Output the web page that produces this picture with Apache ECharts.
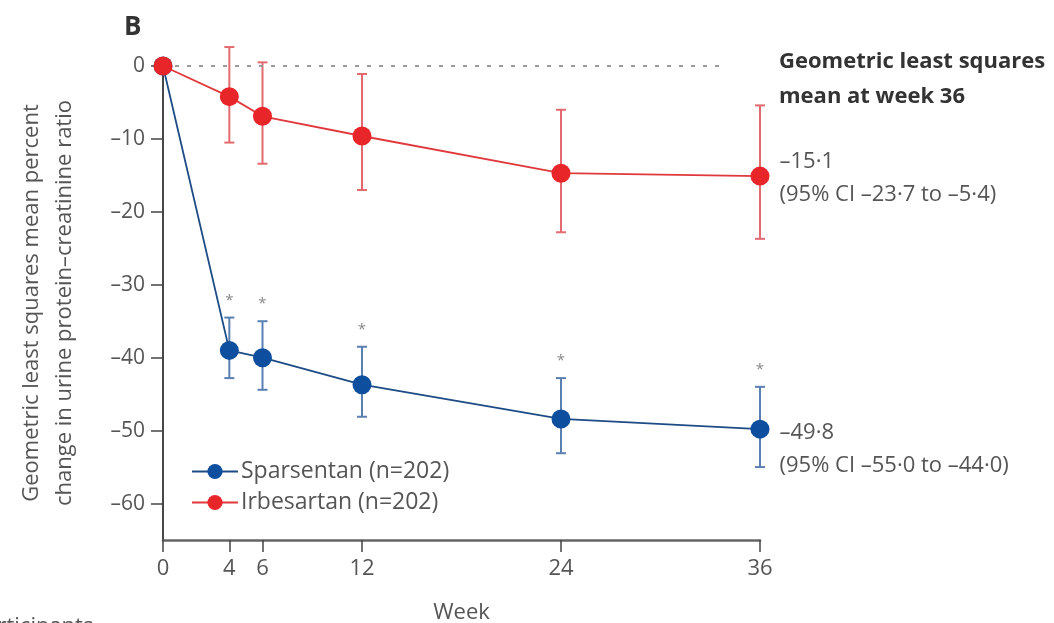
<!DOCTYPE html>
<html>
<head>
<meta charset="utf-8">
<script src="https://cdn.jsdelivr.net/npm/echarts@6/dist/echarts.min.js"></script>
<style>
  html, body { margin: 0; padding: 0; background: #fff; }
  #chart { width: 1054px; height: 623px; }
</style>
</head>
<body>
<div id="chart"></div>
<script>
// Weeks of follow-up
const weeks = [0, 4, 6, 12, 24, 36];
const yTicks = [0, -10, -20, -30, -40, -50, -60];

// Geometric least squares mean percent change in UPCR, with 95% CI
const sparsentanMean  = [0, -39.0, -40.0, -43.7, -48.4, -49.8];
const sparsentanLower = [null, -42.8, -44.4, -48.1, -53.1, -55.0];
const sparsentanUpper = [null, -34.5, -35.0, -38.5, -42.8, -44.0];

const irbesartanMean  = [0, -4.2, -6.9, -9.6, -14.7, -15.1];
const irbesartanLower = [null, -10.5, -13.4, -17.0, -22.8, -23.7];
const irbesartanUpper = [null, 2.6, 0.5, -1.1, -6.0, -5.4];

// weeks where the between-group difference is significant
const significant = [false, true, true, true, true, true];

const seriesNames = ['Sparsentan (n=202)', 'Irbesartan (n=202)'];
const refLineEnd = 33.7;

const BLUE = '#0d4f9e', BLUE_LINE = '#1d4b86', BLUE_BAR = '#5a7fb2';
const RED = '#e8262a', RED_LINE = '#e0393c', RED_BAR = '#e36a6e';
const FONT = '"Open Sans", sans-serif';
const TEXT = '#555';

function fmt(v) {
  return v.toFixed(1).replace('-', '–').replace('.', '·');
}

function pairs(xs, ys) { return xs.map((x, i) => [x, ys[i]]); }

function errorData(lower, upper, flags) {
  const out = [];
  weeks.forEach((w, i) => {
    if (lower[i] != null) out.push([w, lower[i], upper[i], flags ? (flags[i] ? 1 : 0) : 0]);
  });
  return out;
}

function errorBar(color, withStar) {
  return function (params, api) {
    const x = api.value(0);
    const lo = api.coord([x, api.value(1)]);
    const hi = api.coord([x, api.value(2)]);
    const cap = 5;
    const style = { stroke: color, lineWidth: 2 };
    const children = [
      { type: 'line', shape: { x1: lo[0], y1: lo[1], x2: hi[0], y2: hi[1] }, style },
      { type: 'line', shape: { x1: lo[0] - cap, y1: lo[1], x2: lo[0] + cap, y2: lo[1] }, style },
      { type: 'line', shape: { x1: hi[0] - cap, y1: hi[1], x2: hi[0] + cap, y2: hi[1] }, style }
    ];
    if (withStar && api.value(3) === 1) {
      children.push({
        type: 'text',
        style: {
          text: '*', x: hi[0], y: hi[1] - 17,
          fill: '#888', font: '15px ' + FONT,
          align: 'center', verticalAlign: 'middle'
        }
      });
    }
    return { type: 'group', children };
  };
}

function endLabel(mean, lower, upper, dy) {
  const last = mean.length - 1;
  return pairs(weeks, mean).map((p, i) => {
    if (i !== last) return p;
    return {
      value: p,
      label: {
        show: true,
        position: 'right',
        distance: 10,
        offset: [0, dy],
        fontFamily: FONT,
        fontSize: 22,
        color: TEXT,
        lineHeight: 33,
        formatter: fmt(mean[last]) + '\n(95% CI ' + fmt(lower[last]) + ' to ' + fmt(upper[last]) + ')'
      }
    };
  });
}

const chart = echarts.init(document.getElementById('chart'), null, { renderer: 'canvas' });

chart.setOption({
  animation: false,
  backgroundColor: '#fff',
  grid: { left: 163, right: 294, top: 66, bottom: 83, containLabel: false, outerBoundsMode: 'none' },
  legend: {
    orient: 'vertical',
    left: 186,
    top: 455,
    itemWidth: 46,
    itemHeight: 19,
    itemGap: 8,
    data: seriesNames,
    textStyle: { fontFamily: FONT, fontSize: 23, color: TEXT, padding: [0, 0, 0, -2] }
  },
  xAxis: {
    type: 'value',
    min: 0,
    max: 36,
    name: 'Week',
    nameLocation: 'middle',
    nameGap: 62,
    nameTextStyle: { fontFamily: FONT, fontSize: 22, color: TEXT },
    axisLine: { onZero: false, lineStyle: { color: '#666', width: 2.5 } },
    axisTick: { show: true, length: 12, customValues: weeks, lineStyle: { color: '#444', width: 1.5 } },
    axisLabel: { customValues: weeks, margin: 18, fontFamily: FONT, fontSize: 22, color: TEXT },
    splitLine: { show: false }
  },
  yAxis: {
    type: 'value',
    min: -65,
    max: 0,
    name: 'Geometric least squares mean percent\nchange in urine protein–creatinine ratio',
    nameLocation: 'middle',
    nameGap: 82,
    nameRotate: 90,
    nameTextStyle: { fontFamily: FONT, fontSize: 22, color: TEXT, lineHeight: 33 },
    axisLine: { show: true, lineStyle: { color: '#333', width: 1.8 } },
    axisTick: { show: true, length: 12, customValues: yTicks, lineStyle: { color: '#444', width: 1.5 } },
    axisLabel: { customValues: yTicks, margin: 18, fontFamily: FONT, fontSize: 21, color: TEXT,
                 formatter: v => String(v).replace('-', '–') },
    splitLine: { show: false }
  },
  graphic: [
    { type: 'text', left: 124, top: 15,
      style: { text: 'B', font: 'bold 26px ' + FONT, fill: '#333' } },
    { type: 'text', left: 779, top: 44,
      style: { text: 'Geometric least squares\nmean at week 36', font: 'bold 22px ' + FONT,
               fill: '#333', lineHeight: 35 } },
    { type: 'text', left: -28, top: 616,
      style: { text: 'Participants', font: '22px ' + FONT, fill: '#555' } }
  ],
  series: [
    {
      name: seriesNames[0],
      type: 'line',
      data: endLabel(sparsentanMean, sparsentanLower, sparsentanUpper, 20),
      symbol: 'circle',
      symbolSize: 19,
      z: 4,
      itemStyle: { color: BLUE },
      lineStyle: { color: BLUE_LINE, width: 1.8 },
      markLine: {
        silent: true,
        symbol: 'none',
        label: { show: false },
        lineStyle: { color: '#999', type: [4, 8], width: 2 },
        data: [[{ coord: [0, 0] }, { coord: [refLineEnd, 0] }]]
      }
    },
    {
      name: seriesNames[1],
      type: 'line',
      data: endLabel(irbesartanMean, irbesartanLower, irbesartanUpper, 2),
      symbol: 'circle',
      symbolSize: 19,
      z: 5,
      itemStyle: { color: RED },
      lineStyle: { color: RED_LINE, width: 1.8 }
    },
    {
      type: 'custom',
      renderItem: errorBar(BLUE_BAR, true),
      data: errorData(sparsentanLower, sparsentanUpper, significant),
      encode: { x: 0, y: [1, 2] },
      clip: false,
      z: 2,
      silent: true
    },
    {
      type: 'custom',
      renderItem: errorBar(RED_BAR, false),
      data: errorData(irbesartanLower, irbesartanUpper),
      encode: { x: 0, y: [1, 2] },
      clip: false,
      z: 2,
      silent: true
    }
  ]
});
</script>
</body>
</html>
